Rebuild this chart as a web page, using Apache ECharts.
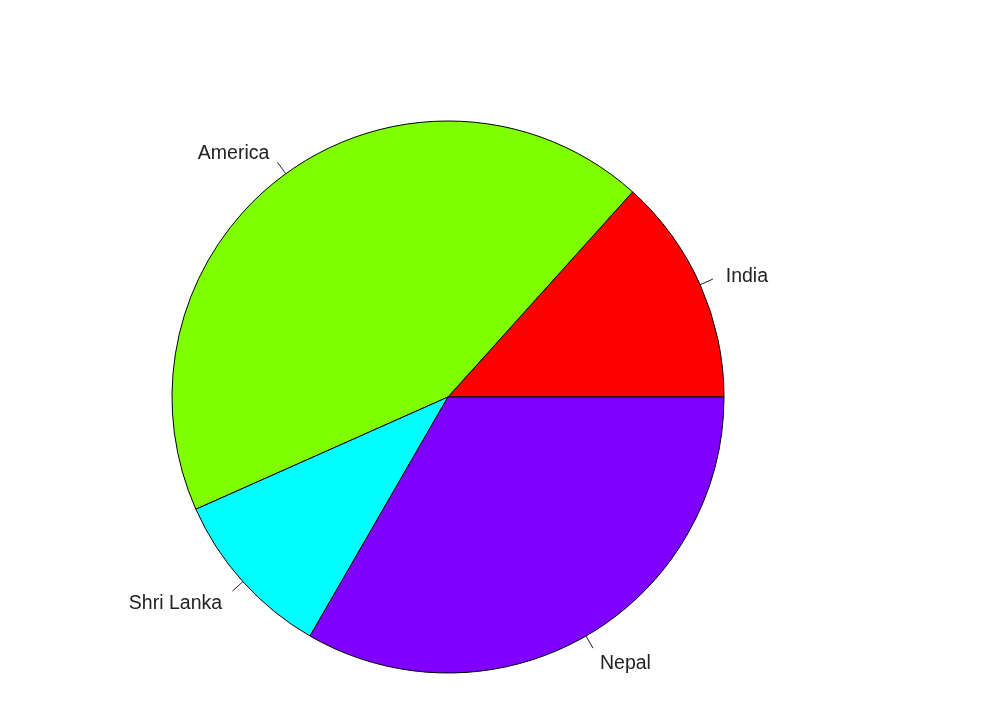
<!DOCTYPE html>
<html>
<head>
<meta charset="utf-8">
<script src="https://cdn.jsdelivr.net/npm/echarts@6/dist/echarts.min.js"></script>
<style>
html, body { margin: 0; padding: 0; background: #fff; }
#chart { width: 982px; height: 717px; }
</style>
</head>
<body>
<div id="chart"></div>
<script>
var countries = ['India', 'America', 'Shri Lanka', 'Nepal'];
var counts = [4, 13, 3, 10];
var colors = ['#FF0000', '#80FF00', '#00FFFF', '#8000FF'];

var chart = echarts.init(document.getElementById('chart'));
var slices = countries.map(function (name, i) {
    return { name: name, value: counts[i], itemStyle: { color: colors[i] } };
});

chart.setOption({
    backgroundColor: '#ffffff',
    animation: false,
    series: [{
        type: 'pie',
        center: [448, 397],
        radius: 276,
        startAngle: 0,
        clockwise: false,
        avoidLabelOverlap: false,
        emphasis: { disabled: true },
        silent: true,
        itemStyle: { borderColor: '#000', borderWidth: 1 },
        label: {
            show: true,
            formatter: '{b}',
            fontFamily: 'Liberation Sans, Arial, sans-serif',
            fontSize: 19.5,
            color: '#222',
            distanceToLabelLine: 0
        },
        labelLine: { show: true, length: 14, length2: 0, lineStyle: { color: '#222', width: 1 } },
        // push the text out along the tick direction, like R's pie() does (text at 1.1r, tick to 1.05r)
        labelLayout: function (p) {
            var pts = p.labelLinePoints;
            if (!pts) return {};
            var a = pts[0], b = pts[1];
            var vx = b[0] - a[0], vy = b[1] - a[1];
            var len = Math.sqrt(vx * vx + vy * vy) || 1;
            return { dx: vx / len * 14, dy: vy / len * 14 + 3, labelLinePoints: pts };
        },
        data: slices
    }]
});
</script>
</body>
</html>
